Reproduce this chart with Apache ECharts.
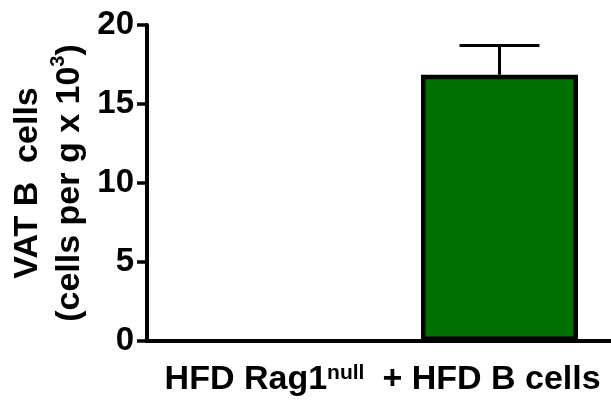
<!DOCTYPE html>
<html>
<head>
<meta charset="utf-8">
<script src="https://cdn.jsdelivr.net/npm/echarts@6/dist/echarts.min.js"></script>
<style>
  html, body { margin: 0; padding: 0; background: #fff; }
  #chart { width: 611px; height: 402px; }
</style>
</head>
<body>
<div id="chart"></div>
<script>
  // groups, means and SEM
  var categories = ['HFD Rag1null', '+ HFD B cells']
  var means = [0, 16.85]
  var sem = [0, 1.85]
  var yTicks = [0, 5, 10, 15, 20]

  var font = 'Liberation Sans, Arial, sans-serif'

  var chart = echarts.init(document.getElementById('chart'))
  chart.setOption({
    animation: false,
    grid: {
      left: 147,
      top: 25,
      width: 470,
      bottom: 61,
      containLabel: false,
      outerBoundsMode: 'none'
    },
    xAxis: {
      type: 'category',
      // second label sits a little left of its tick in the original
      data: categories.map(function (c, i) {
        return i === 1 ? { value: c, textStyle: { padding: [0, 16, 0, 0] } } : c
      }),
      axisLine: { lineStyle: { color: '#000', width: 4 } },
      axisTick: { alignWithLabel: true, length: 10, lineStyle: { color: '#000', width: 3.5 } },
      axisLabel: {
        interval: 0,
        margin: 22,
        color: '#000',
        fontFamily: font,
        fontWeight: 'bold',
        fontSize: 34,
        formatter: function (v) {
          return v.replace(/null$/, '{sup|null}')
        },
        rich: {
          sup: { fontFamily: font, fontWeight: 'bold', fontSize: 21, verticalAlign: 'top', color: '#000' }
        }
      },
      splitLine: { show: false }
    },
    yAxis: {
      type: 'value',
      min: yTicks[0],
      max: yTicks[yTicks.length - 1],
      interval: yTicks[1] - yTicks[0],
      name: '{a|VAT B  cells}\n{a|(cells per g x 10}{s|3}{a|)}',
      nameLocation: 'middle',
      nameRotate: 90,
      nameGap: 51,
      nameTextStyle: {
        color: '#000',
        rich: {
          a: { fontFamily: font, fontWeight: 'bold', fontSize: 34, lineHeight: 42, color: '#000' },
          s: { fontFamily: font, fontWeight: 'bold', fontSize: 20, verticalAlign: 'top', lineHeight: 42, color: '#000' }
        }
      },
      axisLine: { show: true, lineStyle: { color: '#000', width: 4 } },
      axisTick: { show: true, length: 10, lineStyle: { color: '#000', width: 3.5 } },
      axisLabel: {
        margin: 13,
        color: '#000',
        fontFamily: font,
        fontWeight: 'bold',
        fontSize: 33
      },
      splitLine: { show: false }
    },
    series: [
      {
        type: 'bar',
        // an empty group draws no outline on the axis
        data: means.map(function (m) {
          return m === 0 ? { value: m, itemStyle: { borderWidth: 0 } } : m
        }),
        barWidth: 157,
        itemStyle: { color: '#007000', borderColor: '#000', borderWidth: 4.5 }
      },
      {
        type: 'custom',
        data: means.map(function (m, i) { return [i, m, sem[i]] }),
        z: 1,
        renderItem: function (params, api) {
          var e = api.value(2)
          if (!e) return
          var base = api.coord([api.value(0), api.value(1)])
          var top = api.coord([api.value(0), api.value(1) + e])
          var half = api.size([1, 0])[0] * 0.17
          return {
            type: 'group',
            children: [
              { type: 'line', shape: { x1: base[0], y1: base[1], x2: top[0], y2: top[1] }, style: { stroke: '#000', lineWidth: 3 } },
              { type: 'line', shape: { x1: top[0] - half, y1: top[1], x2: top[0] + half, y2: top[1] }, style: { stroke: '#000', lineWidth: 3 } }
            ]
          }
        }
      }
    ]
  })
</script>
</body>
</html>
